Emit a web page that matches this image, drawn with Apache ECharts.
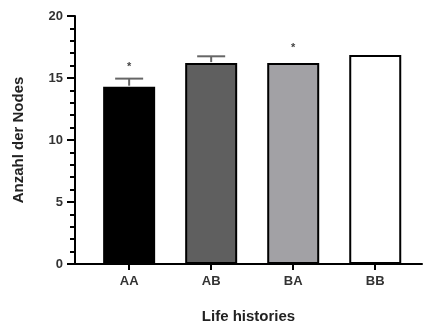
<!DOCTYPE html>
<html>
<head>
<meta charset="utf-8">
<script src="https://cdn.jsdelivr.net/npm/echarts@6/dist/echarts.min.js"></script>
<style>
  html, body { margin: 0; padding: 0; background: #fff; }
  #chart { width: 427px; height: 327px; }
</style>
</head>
<body>
<div id="chart"></div>
<script>
// Group names and measured means with their error (SEM) values
const categories = ['AA', 'AB', 'BA', 'BB'];
const means = [14.3, 16.2, 16.2, 16.85];
const errors = [0.65, 0.55, 0, 0];
const significant = [true, false, true, false];
const barFills = ['#000000', '#5f5f5f', '#a2a1a5', '#ffffff'];
const yTicks = { min: 0, max: 20, step: 5 };

const positions = categories.map((_, i) => i + 1);
const FONT = 'Liberation Sans, Arial, sans-serif';

const barData = means.map((v, i) => ({
  value: [positions[i], v],
  itemStyle: { color: barFills[i] }
}));

const errData = means.map((v, i) => [positions[i], v, errors[i], significant[i] ? 1 : 0]);

const chart = echarts.init(document.getElementById('chart'), null, { renderer: 'canvas' });

chart.setOption({
  animation: false,
  backgroundColor: '#ffffff',
  grid: { left: 75, right: 5, top: 16, bottom: 63, outerBoundsMode: 'none', containLabel: false },
  xAxis: {
    type: 'value',
    min: 0.34,
    max: 4.57,
    splitLine: { show: false },
    axisLine: { show: true, lineStyle: { color: '#000', width: 2 } },
    axisTick: {
      show: true, customValues: positions, length: 6, inside: false,
      lineStyle: { color: '#000', width: 2 }
    },
    axisLabel: {
      show: true, customValues: positions, margin: 11,
      formatter: v => categories[Math.round(v) - 1] || '',
      color: '#333', fontFamily: FONT, fontWeight: 'bold', fontSize: 13
    },
    name: 'Life histories',
    nameLocation: 'middle',
    nameGap: 45,
    nameTextStyle: { color: '#222', fontFamily: FONT, fontWeight: 'bold', fontSize: 15 }
  },
  yAxis: {
    type: 'value',
    min: yTicks.min,
    max: yTicks.max,
    interval: yTicks.step,
    splitLine: { show: false },
    axisLine: { show: true, lineStyle: { color: '#000', width: 2 } },
    axisTick: { show: true, length: 8, lineStyle: { color: '#000', width: 2 } },
    minorTick: { show: true, splitNumber: 5, length: 5, lineStyle: { color: '#000', width: 2 } },
    axisLabel: {
      color: '#333', fontFamily: FONT, fontWeight: 'bold', fontSize: 13, margin: 12
    },
    name: 'Anzahl der Nodes',
    nameLocation: 'middle',
    nameGap: 49,
    nameRotate: 90,
    nameTextStyle: { color: '#222', fontFamily: FONT, fontWeight: 'bold', fontSize: 15 }
  },
  series: [
    {
      type: 'bar',
      data: barData,
      barWidth: 52,
      itemStyle: { borderColor: '#000', borderWidth: 2 },
      z: 2
    },
    {
      // error bars (upper only) and significance stars
      type: 'custom',
      data: errData,
      z: 3,
      renderItem: function (params, api) {
        const x = api.value(0);
        const mean = api.value(1);
        const err = api.value(2);
        const star = api.value(3);
        const base = api.coord([x, mean]);
        const top = api.coord([x, mean + err]);
        const children = [];
        if (err > 0) {
          children.push({
            type: 'line',
            shape: { x1: base[0], y1: base[1] - 1, x2: top[0], y2: top[1] },
            style: { stroke: '#666', lineWidth: 2 }
          });
          children.push({
            type: 'line',
            shape: { x1: top[0] - 14, y1: top[1], x2: top[0] + 14, y2: top[1] },
            style: { stroke: '#666', lineWidth: 2 }
          });
        }
        if (star) {
          children.push({
            type: 'text',
            style: {
              x: top[0], y: top[1] - (err > 0 ? 12 : 15),
              text: '*', fill: '#444', font: 'bold 11px ' + FONT,
              align: 'center', verticalAlign: 'middle'
            }
          });
        }
        return { type: 'group', children: children };
      }
    }
  ]
});
</script>
</body>
</html>
